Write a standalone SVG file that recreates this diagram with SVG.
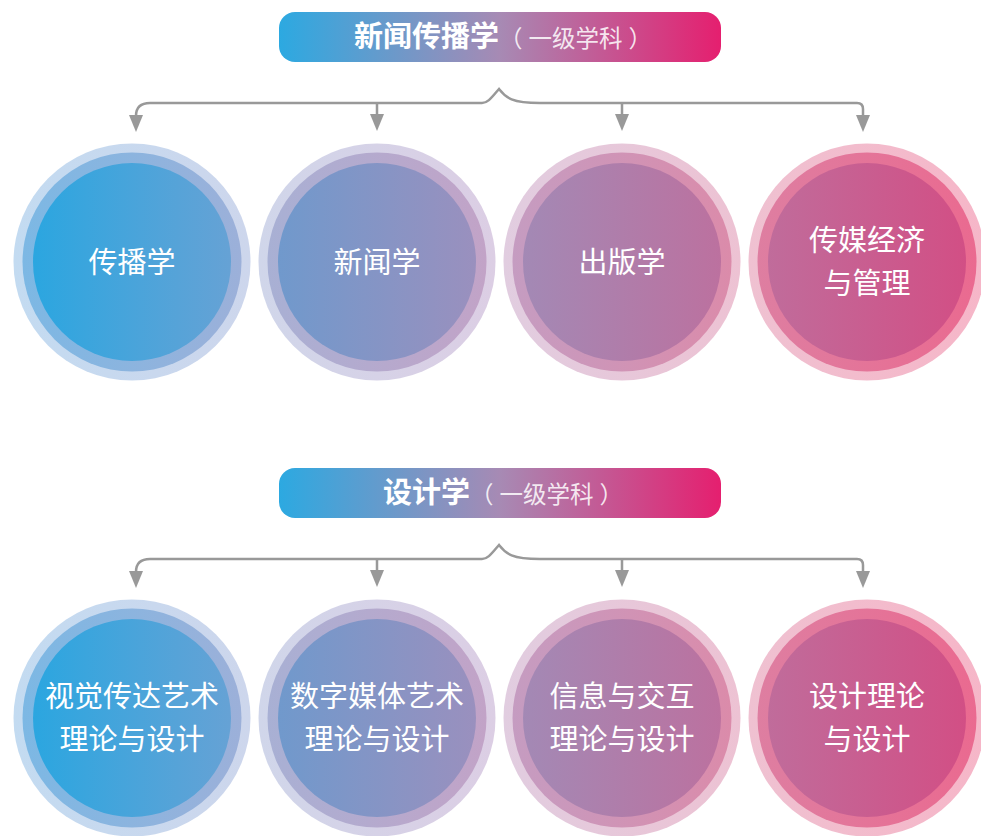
<svg xmlns="http://www.w3.org/2000/svg" width="981" height="836" viewBox="0 0 981 836">
<style>
.lbl{font-family:"Noto Sans CJK SC","Noto Sans",sans-serif;font-size:29px;fill:#fff;text-anchor:middle}
.ttl{font-family:"Noto Sans CJK SC","Noto Sans",sans-serif;fill:#fff}
.b{font-weight:700;font-size:29px}
.s{font-weight:400;font-size:23.5px;fill-opacity:0.85}
.con{fill:none;stroke:#999;stroke-width:2.5}
.ah{fill:#999}
</style>
<defs>
<linearGradient id="gb" x1="0" y1="0" x2="1" y2="0"><stop offset="0" stop-color="#2CA9E1"/><stop offset="0.5" stop-color="#A78AB4"/><stop offset="1" stop-color="#E51F6F"/></linearGradient>
<linearGradient id="i1" x1="0" x2="1"><stop offset="0" stop-color="#2BA6E0"/><stop offset="1" stop-color="#66A2D5"/></linearGradient>
<linearGradient id="m1" x1="0" x2="1"><stop offset="0" stop-color="#7CB8E4"/><stop offset="1" stop-color="#9CB0D9"/></linearGradient>
<linearGradient id="o1" x1="0" x2="1"><stop offset="0" stop-color="#C3DBF1"/><stop offset="1" stop-color="#CDD6EC"/></linearGradient>
<linearGradient id="i2" x1="0" x2="1"><stop offset="0" stop-color="#7099CC"/><stop offset="1" stop-color="#9A90BE"/></linearGradient>
<linearGradient id="m2" x1="0" x2="1"><stop offset="0" stop-color="#A8B0D4"/><stop offset="1" stop-color="#C2A3C7"/></linearGradient>
<linearGradient id="o2" x1="0" x2="1"><stop offset="0" stop-color="#D0D6EA"/><stop offset="1" stop-color="#DCCEE4"/></linearGradient>
<linearGradient id="i3" x1="0" x2="1"><stop offset="0" stop-color="#A389B5"/><stop offset="1" stop-color="#BC719F"/></linearGradient>
<linearGradient id="m3" x1="0" x2="1"><stop offset="0" stop-color="#C59CC1"/><stop offset="1" stop-color="#DB8BAA"/></linearGradient>
<linearGradient id="o3" x1="0" x2="1"><stop offset="0" stop-color="#E1CDE0"/><stop offset="1" stop-color="#EDC2D3"/></linearGradient>
<linearGradient id="i4" x1="0" x2="1"><stop offset="0" stop-color="#C06C9B"/><stop offset="1" stop-color="#D24F85"/></linearGradient>
<linearGradient id="m4" x1="0" x2="1"><stop offset="0" stop-color="#DE7EA1"/><stop offset="1" stop-color="#EA6A90"/></linearGradient>
<linearGradient id="o4" x1="0" x2="1"><stop offset="0" stop-color="#EFC1D1"/><stop offset="1" stop-color="#F6B6C8"/></linearGradient>
<polygon id="arr" class="ah" points="-7,0 7,0 0,17"/>
</defs>

<g id="connectors">
<g id="brace-top">
<path class="con" d="M136,116 Q136,103 150,103 H482 C488,103 492,97 499,89 C506,98 512,103 540,103 H857 Q863,103 863,109 V116"/>
<path class="con" d="M377,103 V115 M622,103 V115"/>
<use href="#arr" x="136" y="115"/><use href="#arr" x="377" y="114"/><use href="#arr" x="622" y="114"/><use href="#arr" x="863" y="115"/>
</g>
<g id="brace-bottom" transform="translate(0,456)">
<path class="con" d="M136,116 Q136,103 150,103 H482 C488,103 492,97 499,89 C506,98 512,103 540,103 H857 Q863,103 863,109 V116"/>
<path class="con" d="M377,103 V115 M622,103 V115"/>
<use href="#arr" x="136" y="115"/><use href="#arr" x="377" y="114"/><use href="#arr" x="622" y="114"/><use href="#arr" x="863" y="115"/>
</g>
</g>

<g id="banner-top">
<rect x="279" y="12" width="442" height="50" rx="16" fill="url(#gb)"/>
<text class="ttl" x="503" y="47" text-anchor="middle"><tspan class="b">新闻传播学</tspan><tspan class="s">（</tspan><tspan class="s" dx="6">一级学科</tspan><tspan class="s" dx="6">）</tspan></text>
</g>

<g id="n-chuanbo">
<circle cx="132" cy="262" r="118.5" fill="url(#o1)"/><circle cx="132" cy="262" r="109.5" fill="url(#m1)"/><circle cx="132" cy="262" r="99" fill="url(#i1)"/>
<text class="lbl" x="132" y="273">传播学</text>
</g>
<g id="n-xinwen">
<circle cx="377" cy="262" r="118.5" fill="url(#o2)"/><circle cx="377" cy="262" r="109.5" fill="url(#m2)"/><circle cx="377" cy="262" r="99" fill="url(#i2)"/>
<text class="lbl" x="377" y="273">新闻学</text>
</g>
<g id="n-chuban">
<circle cx="622" cy="262" r="118.5" fill="url(#o3)"/><circle cx="622" cy="262" r="109.5" fill="url(#m3)"/><circle cx="622" cy="262" r="99" fill="url(#i3)"/>
<text class="lbl" x="622" y="273">出版学</text>
</g>
<g id="n-chuanmei">
<circle cx="867" cy="262" r="118.5" fill="url(#o4)"/><circle cx="867" cy="262" r="109.5" fill="url(#m4)"/><circle cx="867" cy="262" r="99" fill="url(#i4)"/>
<text class="lbl" x="867" y="251">传媒经济</text>
<text class="lbl" x="867" y="294">与管理</text>
</g>

<g id="banner-bottom">
<rect x="279" y="468" width="442" height="50" rx="16" fill="url(#gb)"/>
<text class="ttl" x="503" y="503" text-anchor="middle"><tspan class="b">设计学</tspan><tspan class="s">（</tspan><tspan class="s" dx="6">一级学科</tspan><tspan class="s" dx="6">）</tspan></text>
</g>

<g id="n-shijue">
<circle cx="132" cy="718" r="118.5" fill="url(#o1)"/><circle cx="132" cy="718" r="109.5" fill="url(#m1)"/><circle cx="132" cy="718" r="99" fill="url(#i1)"/>
<text class="lbl" x="132" y="707">视觉传达艺术</text>
<text class="lbl" x="132" y="750">理论与设计</text>
</g>
<g id="n-shuzi">
<circle cx="377" cy="718" r="118.5" fill="url(#o2)"/><circle cx="377" cy="718" r="109.5" fill="url(#m2)"/><circle cx="377" cy="718" r="99" fill="url(#i2)"/>
<text class="lbl" x="377" y="707">数字媒体艺术</text>
<text class="lbl" x="377" y="750">理论与设计</text>
</g>
<g id="n-xinxi">
<circle cx="622" cy="718" r="118.5" fill="url(#o3)"/><circle cx="622" cy="718" r="109.5" fill="url(#m3)"/><circle cx="622" cy="718" r="99" fill="url(#i3)"/>
<text class="lbl" x="622" y="707">信息与交互</text>
<text class="lbl" x="622" y="750">理论与设计</text>
</g>
<g id="n-sheji">
<circle cx="867" cy="718" r="118.5" fill="url(#o4)"/><circle cx="867" cy="718" r="109.5" fill="url(#m4)"/><circle cx="867" cy="718" r="99" fill="url(#i4)"/>
<text class="lbl" x="867" y="707">设计理论</text>
<text class="lbl" x="867" y="750">与设计</text>
</g>
</svg>
